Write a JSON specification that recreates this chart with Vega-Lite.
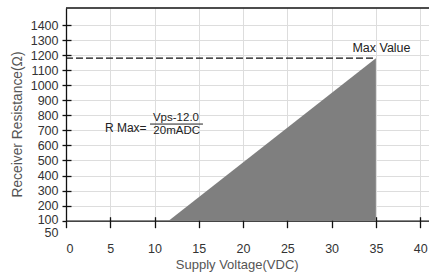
{
  "$schema": "https://vega.github.io/schema/vega-lite/v6.json",
  "width": 363,
  "height": 212.7,
  "autosize": "none",
  "padding": {"left": 66, "top": 8, "right": 0, "bottom": 51.3},
  "background": "white",
  "config": {"view": {"stroke": null}, "font": "Liberation Sans"},
  "layer": [
    {
      "data": {"values": [{"v": 11.6, "r": 100}, {"v": 35, "r": 1180}]},
      "mark": {"type": "area", "color": "#7f7f7f", "opacity": 1},
      "encoding": {
        "x": {"field": "v", "type": "quantitative",
          "scale": {"domain": [0, 41], "nice": false, "zero": false},
          "axis": {"orient": "bottom", "values": [0, 5, 10, 15, 20, 25, 30, 35, 40], "tickSize": 7, "labelPadding": 14.5,
            "domainColor": "#111", "tickColor": "#111", "domainWidth": 1.3, "tickWidth": 1.3,
            "labelFontSize": 12.5, "labelColor": "#333", "labelFont": "Liberation Sans",
            "title": "Supply Voltage(VDC)", "titleFontSize": 13, "titleFontWeight": "normal", "titleColor": "#555",
            "titleX": 170.7, "titleY": 47.5, "titleAlign": "center", "titleBaseline": "alphabetic", "titleAnchor": null}},
        "y": {"field": "r", "type": "quantitative",
          "scale": {"domain": [100, 1513], "nice": false, "zero": false},
          "axis": {"orient": "left", "values": [100, 200, 300, 400, 500, 600, 700, 800, 900, 1000, 1100, 1200, 1300, 1400],
            "format": "d",
            "labelExpr": "datum.value == 100 ? ['100', '50'] : datum.label",
            "labelLineHeight": 13,
            "labelBaseline": {"condition": {"test": "datum.value == 100", "value": "top"}, "value": "middle"},
            "labelOffset": {"condition": {"test": "datum.value == 100", "value": -7}, "value": 0},
            "tickSize": 4, "labelPadding": 4,
            "domainColor": "#111", "tickColor": "#111", "domainWidth": 1.3, "tickWidth": 1.3,
            "labelFontSize": 12.5, "labelColor": "#333",
            "title": "Receiver Resistance(Ω)", "titleFontSize": 13.8, "titleFontWeight": "normal", "titleColor": "#555",
            "titleX": -49, "titleY": 116, "titleAngle": -90, "titleAlign": "center", "titleBaseline": "middle", "titleAnchor": null}},
        "y2": {"datum": 100}
      }
    },
    {
      "data": {"values": [{"v": 0, "v2": 35, "r": 1180}]},
      "mark": {"type": "rule", "color": "#111", "strokeDash": [7, 3], "strokeWidth": 1.3},
      "encoding": {
        "x": {"field": "v", "type": "quantitative",
          "scale": {"domain": [0, 41], "nice": false, "zero": false},
          "axis": {"orient": "bottom", "values": [5, 10, 15, 20, 25, 30, 35, 40], "tickSize": -4, "labels": false, "domain": false, "title": null, "tickColor": "#111", "tickWidth": 1.3}},
        "x2": {"field": "v2"},
        "y": {"field": "r", "type": "quantitative",
          "scale": {"domain": [100, 1513], "nice": false, "zero": false},
          "axis": {"orient": "left", "values": [200, 300, 400, 500, 600, 700, 800, 900, 1000, 1100, 1200, 1300, 1400], "tickSize": -5, "labels": false, "domain": false, "title": null, "tickColor": "#111", "tickWidth": 1.3}}
      }
    },
    {
      "data": {"values": [{"r": 1513}]},
      "mark": {"type": "rule", "color": "#111", "strokeWidth": 1.3},
      "encoding": {
        "y": {"field": "r", "type": "quantitative", "scale": {"domain": [100, 1513], "nice": false, "zero": false}, "axis": null}
      }
    },
    {
      "data": {"values": [{"v": 9.49, "v2": 15.47, "r": 742}]},
      "mark": {"type": "rule", "color": "#222", "strokeWidth": 1},
      "encoding": {
        "x": {"field": "v", "type": "quantitative", "scale": {"domain": [0, 41], "nice": false, "zero": false}, "axis": null},
        "x2": {"field": "v2"},
        "y": {"field": "r", "type": "quantitative", "scale": {"domain": [100, 1513], "nice": false, "zero": false}, "axis": null}
      }
    },
    {
      "data": {"values": [
        {"v": 12.42, "r": 784, "label": "Vps-12.0"},
        {"v": 12.5, "r": 696, "label": "20mADC"}
      ]},
      "mark": {"type": "text", "fontSize": 11.5, "color": "#222", "baseline": "middle", "align": "center"},
      "encoding": {
        "x": {"field": "v", "type": "quantitative", "scale": {"domain": [0, 41], "nice": false, "zero": false}, "axis": null},
        "y": {"field": "r", "type": "quantitative", "scale": {"domain": [100, 1513], "nice": false, "zero": false}, "axis": null},
        "text": {"field": "label"}
      }
    },
    {
      "data": {"values": [{"v": 35.63, "r": 1247, "label": "Max Value"}]},
      "mark": {"type": "text", "fontSize": 12.5, "color": "#222", "baseline": "middle", "align": "center"},
      "encoding": {
        "x": {"field": "v", "type": "quantitative", "scale": {"domain": [0, 41], "nice": false, "zero": false}, "axis": null},
        "y": {"field": "r", "type": "quantitative", "scale": {"domain": [100, 1513], "nice": false, "zero": false}, "axis": null},
        "text": {"field": "label"}
      }
    },
    {
      "data": {"values": [{"v": 9.1, "r": 719, "label": "R Max="}]},
      "mark": {"type": "text", "fontSize": 12, "color": "#222", "baseline": "middle", "align": "right"},
      "encoding": {
        "x": {"field": "v", "type": "quantitative", "scale": {"domain": [0, 41], "nice": false, "zero": false}, "axis": null},
        "y": {"field": "r", "type": "quantitative", "scale": {"domain": [100, 1513], "nice": false, "zero": false}, "axis": null},
        "text": {"field": "label"}
      }
    }
  ],
  "resolve": {"axis": {"x": "independent", "y": "independent"}}
}
